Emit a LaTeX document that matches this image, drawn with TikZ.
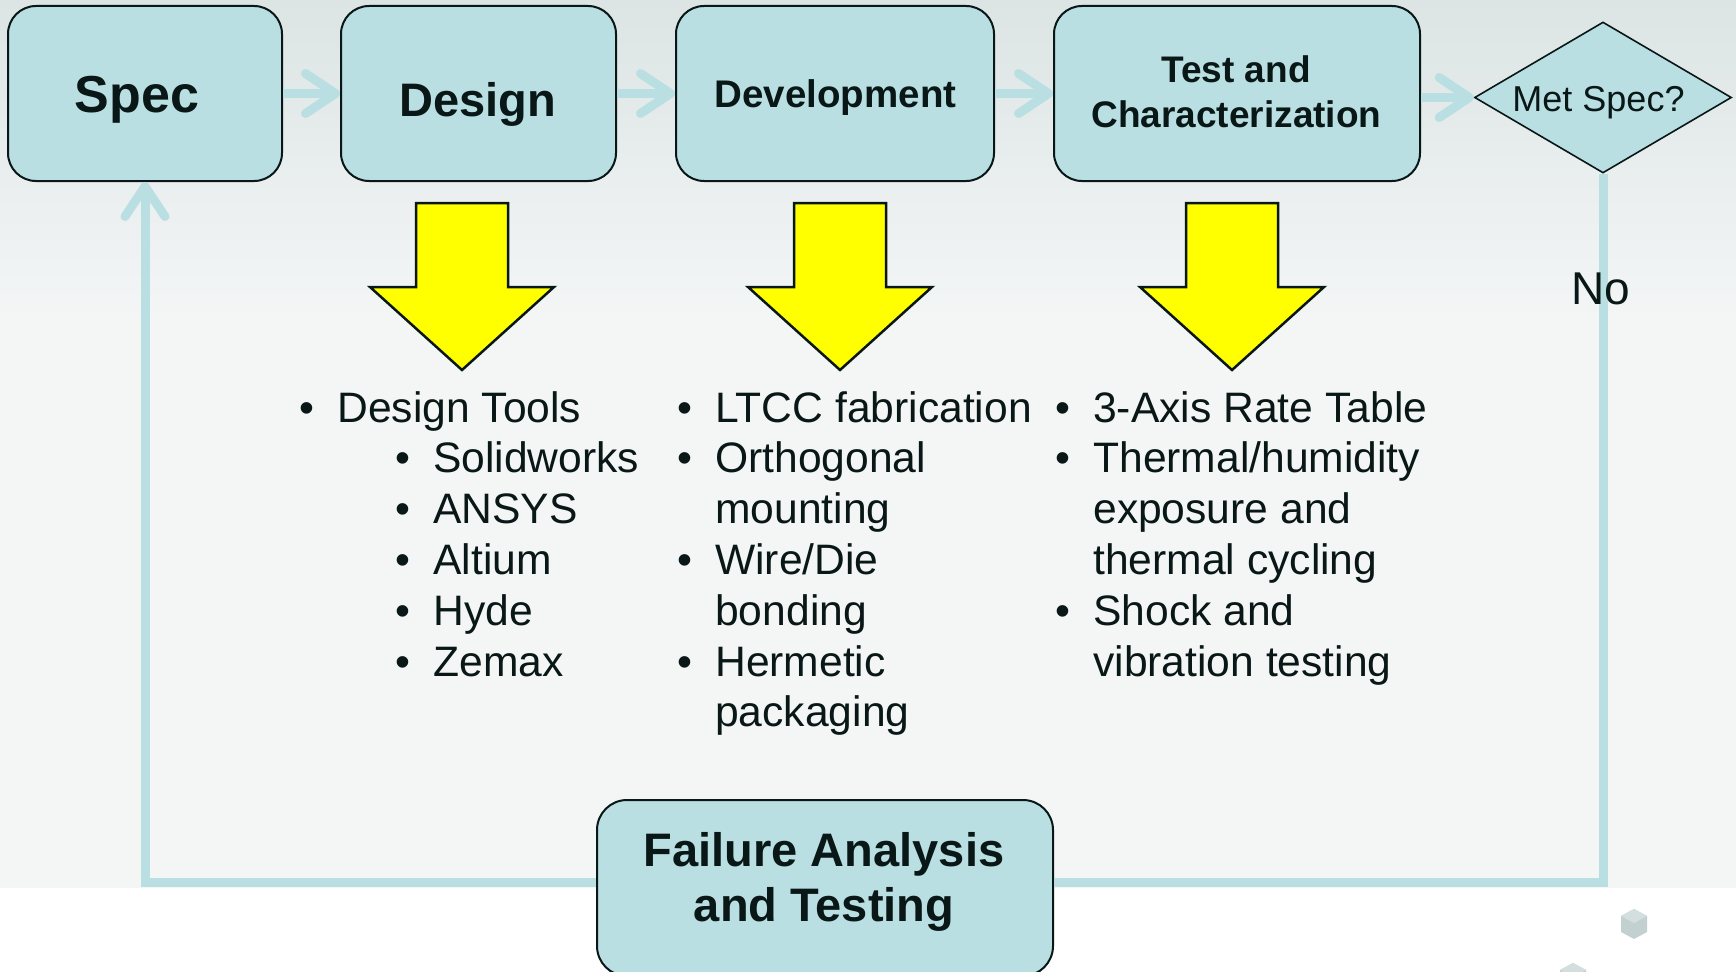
\documentclass[tikz,border=0pt]{standalone}
\usepackage{fontspec}
\setmainfont{Liberation Sans}
\usetikzlibrary{shapes.geometric,arrows.meta}

\definecolor{boxfill}{HTML}{B9DFE3}
\definecolor{linkc}{HTML}{B9DFE3}
\definecolor{inkc}{HTML}{0A1717}
\definecolor{bgtop}{HTML}{DCE4E4}
\definecolor{bgbot}{HTML}{F4F6F6}
\definecolor{cubeside}{HTML}{C2D0D0}
\definecolor{cubetop}{HTML}{D3DEDE}
\definecolor{blockyellow}{HTML}{FFFF00}

% bullet and hanging indent for the list lines
\newcommand\lbul{\makebox[37.5pt][l]{•}}
\newcommand\lgap{\hspace*{37.5pt}}

\tikzset{
  stage/.style={draw=inkc, line width=2pt, fill=boxfill, rounded corners=28pt,
    inner sep=0pt, minimum height=175pt},
  decision/.style={diamond, draw=inkc, line width=1.6pt, fill=boxfill, inner sep=0pt,
    shape aspect=1.7, minimum width=257pt, minimum height=151pt},
  stagetext/.style={text=inkc, inner sep=0pt, anchor=base,
    font=\bfseries\fontsize{#1}{#1}\selectfont},
  plaintext/.style={text=inkc, inner sep=0pt, anchor=base,
    font=\fontsize{#1}{#1}\selectfont},
  listtext/.style={text=inkc, inner sep=0pt, anchor=base west,
    font=\fontsize{42.6}{51}\selectfont},
  barb/.tip={Straight Barb[length=30pt,width=40pt,round]},
  stepflow/.style={draw=linkc, line width=9pt, -barb},
  returnline/.style={draw=linkc, line width=9pt},
  downblock/.pic={
    \draw[draw=inkc, line width=2.5pt, fill=blockyellow, line join=miter]
      (-46,0) -- (46,0) -- (46,84) -- (92,84) -- (0,167) -- (-92,84) -- (-46,84) -- cycle;
  },
  smallcube/.pic={
    \fill[cubeside] (0,-15) -- (13,-8) -- (13,8) -- (0,15) -- (-13,8) -- (-13,-8) -- cycle;
    \fill[cubetop] (0,-15) -- (13,-8) -- (0,-1) -- (-13,-8) -- cycle;
  },
}

\begin{document}
\begin{tikzpicture}[x=1pt,y=-1pt]
\useasboundingbox (0,0) rectangle (1736,971);
\clip (0,0) rectangle (1736,971);

% backdrop
\fill[white] (0,0) rectangle (1736,971);
\shade[top color=bgtop, bottom color=bgbot] (0,0) rectangle (1736,320);
\fill[bgbot] (0,319) rectangle (1736,888);

% decorative cubes
\pic (cubeA) at (1634,924) {smallcube};
\pic (cubeB) at (1573,978) {smallcube};

% stages
\node[stage, minimum width=274pt] (spec)   at (145,93.5)  {};
\node[stage, minimum width=275pt] (design) at (478.5,93.5) {};
\node[stage, minimum width=318pt] (dev)    at (835,93.5)  {};
\node[stage, minimum width=366pt] (test)   at (1237,93.5) {};
\node[decision] (dia) at (1603,97.5) {};

% return path through failure analysis
\coordinate (loopR) at (1603,882);
\coordinate (loopL) at (145,882);
\node[stage, minimum width=456pt, minimum height=176pt, rounded corners=30pt] (fail) at (825,888) {};
\draw[returnline] (dia.south) -- (loopR) -- (fail.east |- loopR);
\draw[returnline, -barb] (fail.west |- loopL) -- (loopL) -- (spec.south);

% forward flow
\draw[stepflow] (spec.east) -- (design.west);
\draw[stepflow] (design.east) -- (dev.west);
\draw[stepflow] (dev.east) -- (test.west);
\draw[stepflow] (test.east |- dia.west) -- (dia.west);

% stage titles
\node[stagetext=52] (specT) at (137,113) {Spec};
\node[stagetext=47] (designT) at (478,117) {Design};
\node[stagetext=38.5] (devT) at (835.5,108) {Development};
\node[stagetext=37] (testT1) at (1236,83) {Test and};
\node[stagetext=37] (testT2) at (1236.5,128) {Characterization};
\node[plaintext=36] (diaT) at (1598.5,112) {Met Spec?};
\node[plaintext=46] (noT) at (1601,304) {No};
\node[stagetext=47] (failT1) at (824,866) {Failure Analysis};
\node[stagetext=47] (failT2) at (824,921) {and Testing};

% block arrows
\pic (ydesign) at (462,203) {downblock};
\pic (ydev) at (840,203) {downblock};
\pic (ytest) at (1232,203) {downblock};

% design tools
\node[listtext] (d1) at (299.6,422)   {\lbul Design Tools};
\node[listtext] (d2) at (395.6,472.8) {\lbul Solidworks};
\node[listtext] (d3) at (395.6,523.6) {\lbul ANSYS};
\node[listtext] (d4) at (395.6,574.4) {\lbul Altium};
\node[listtext] (d5) at (395.6,625.2) {\lbul Hyde};
\node[listtext] (d6) at (395.6,676)   {\lbul Zemax};

% development work
\node[listtext] (v1) at (677.6,422)   {\lbul LTCC fabrication};
\node[listtext] (v2) at (677.6,472.8) {\lbul Orthogonal};
\node[listtext] (v3) at (677.6,523.6) {\lgap mounting};
\node[listtext] (v4) at (677.6,574.4) {\lbul Wire/Die};
\node[listtext] (v5) at (677.6,625.2) {\lgap bonding};
\node[listtext] (v6) at (677.6,676)   {\lbul Hermetic};
\node[listtext] (v7) at (677.6,726.8) {\lgap packaging};

% test work
\node[listtext] (t1) at (1055.6,422)   {\lbul 3-Axis Rate Table};
\node[listtext] (t2) at (1055.6,472.8) {\lbul Thermal/humidity};
\node[listtext] (t3) at (1055.6,523.6) {\lgap exposure and};
\node[listtext] (t4) at (1055.6,574.4) {\lgap thermal cycling};
\node[listtext] (t5) at (1055.6,625.2) {\lbul Shock and};
\node[listtext] (t6) at (1055.6,676)   {\lgap vibration testing};
\end{tikzpicture}
\end{document}
